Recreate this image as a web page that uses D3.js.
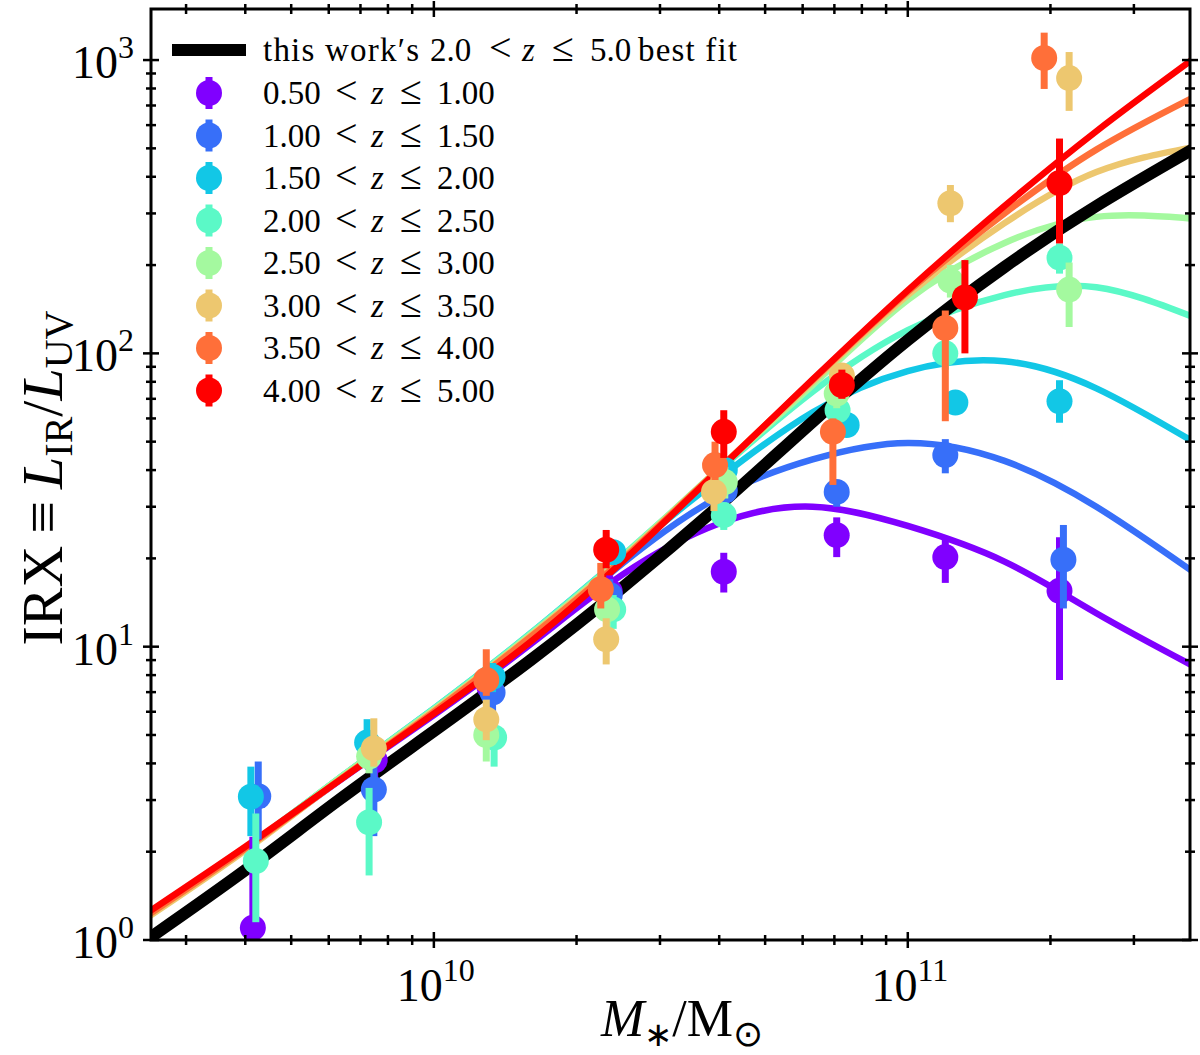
<!DOCTYPE html>
<html>
<head>
<meta charset="utf-8">
<script src="https://cdn.jsdelivr.net/npm/d3@7"></script>
<style>
  body { margin: 0; background: #fff; }
  text { font-family: "Liberation Serif", "Times New Roman", serif; fill: #000; }
</style>
</head>
<body>
<svg id="chart"></svg>
<script>
// redshift bins
const zLow = ['0.50', '1.00', '1.50', '2.00', '2.50', '3.00', '3.50', '4.00']
const zHigh = ['1.00', '1.50', '2.00', '2.50', '3.00', '3.50', '4.00', '5.00']
const colors = ['#8000ff', '#376ff9', '#12c7e6', '#5bf9c7', '#a4f99f', '#edc76f', '#ff6f39', '#ff0000']

// measured points: [M*, IRX, low, high]
const pts0 = [[4.15e9, 1.10, 0.6, 2.25], [7.5e9, 4.1, 3.5, 4.7], [1.31e10, 7.3, 6.3, 8.4], [2.35e10, 15.4, 13.5, 17.5],
  [4.09e10, 18.0, 15.3, 20.9], [7.08e10, 24, 20.2, 27.6], [1.2e11, 20.2, 16.5, 23.7], [2.09e11, 15.5, 7.7, 23.6]]
const pts1 = [[4.26e9, 3.09, 2.2, 4.06], [7.47e9, 3.26, 2.26, 3.9], [1.33e10, 6.98, 6.0, 8.0], [2.35e10, 15, 13, 17],
  [4.11e10, 34, 30, 38], [7.08e10, 33.7, 30, 37], [1.2e11, 45, 39, 51], [2.13e11, 19.8, 13.5, 26]]
const pts2 = [[4.11e9, 3.08, 2.26, 3.9], [7.23e9, 4.71, 4.1, 5.66], [1.33e10, 7.9, 7, 8.8], [2.39e10, 21, 19, 23],
  [4.11e10, 40, 36, 44], [7.43e10, 57, 52, 62], [1.26e11, 68, 63, 73], [2.09e11, 68.7, 58, 81]]
const pts3 = [[4.21e9, 1.86, 1.15, 2.7], [7.3e9, 2.52, 1.66, 3.3], [1.34e10, 4.9, 3.9, 5.9], [2.39e10, 13.4, 11.5, 15],
  [4.09e10, 28.1, 25, 31], [7.11e10, 64, 57, 71], [1.2e11, 100, 88, 112], [2.09e11, 212, 187, 237]]
const pts4 = [[7.3e9, 4.22, 3.7, 4.8], [1.29e10, 5.0, 4.06, 5.9], [2.32e10, 13.4, 11.5, 15.5], [4.11e10, 36.4, 32, 41],
  [7.08e10, 73, 65, 81], [1.23e11, 177, 155, 200], [2.19e11, 165, 123, 204]]
const pts5 = [[7.47e9, 4.5, 3.9, 5.7], [1.29e10, 5.65, 4.8, 6.6], [2.31e10, 10.6, 8.7, 12.5], [3.9e10, 33.7, 29, 38],
  [7.26e10, 84, 76, 92], [1.23e11, 325, 280, 375], [2.19e11, 868, 671, 1065]]
const pts6 = [[1.29e10, 7.7, 6.8, 9.8], [2.25e10, 15.7, 13.5, 19.3], [3.92e10, 41.6, 37, 50], [6.95e10, 54, 35.6, 60],
  [1.2e11, 122, 58.7, 140], [1.94e11, 1016, 797, 1240]]
const pts7 = [[2.31e10, 21.4, 18.5, 25], [4.09e10, 54, 44, 64], [7.26e10, 78, 70, 88], [1.32e11, 155, 100, 208],
  [2.09e11, 381, 237, 540]]
const points = [pts0, pts1, pts2, pts3, pts4, pts5, pts6, pts7]

// fitted curves at these masses
const fitMass = [2.5e9, 4e9, 6.3e9, 1e10, 1.6e10, 2.5e10, 4e10, 6.3e10, 1e11, 1.6e11, 2.5e11, 4e11]
const fit0 = [1.22, 2.05, 3.48, 5.85, 10.2, 17.6, 26.3, 30, 25.8, 19.5, 13, 8.6]
const fit1 = [1.22, 2.05, 3.5, 5.95, 10.5, 19.2, 32.5, 43.5, 49.5, 43, 30, 18]
const fit2 = [1.22, 2.05, 3.55, 6.15, 11.1, 20.3, 37.5, 63, 87, 94, 76, 50]
const fit3 = [1.22, 2.05, 3.55, 6.15, 11.1, 20.4, 40, 74, 120, 158, 168, 133]
const fit4 = [1.22, 2.05, 3.55, 6.1, 11.0, 20.2, 40.5, 78, 152, 238, 292, 288]
const fit5 = [1.20, 2.02, 3.5, 6.05, 10.9, 20, 40.5, 80, 158, 278, 415, 505]
const fit6 = [1.22, 2.05, 3.5, 6.0, 10.8, 19.8, 40.5, 81, 162, 300, 495, 745]
const fit7 = [1.246, 2.08, 3.49, 5.91, 10.4, 19.5, 40.2, 81.5, 164, 318, 572, 1008]
const fits = [fit0, fit1, fit2, fit3, fit4, fit5, fit6, fit7]
const fitBest = [1.01, 1.73, 3.0, 5.15, 9.0, 15.9, 30.3, 58.5, 111, 197, 318, 497]

const xMajor = [1e10, 1e11]
const xMajorExp = ['10', '11']
const xMinor = [3e9, 4e9, 5e9, 6e9, 7e9, 8e9, 9e9, 2e10, 3e10, 4e10, 5e10, 6e10, 7e10, 8e10, 9e10, 2e11, 3e11]
const yMajor = [1, 10, 100, 1000]
const yMajorExp = ['0', '1', '2', '3']
const yMinor = [2, 3, 4, 5, 6, 7, 8, 9, 20, 30, 40, 50, 60, 70, 80, 90, 200, 300, 400, 500, 600, 700, 800, 900]

const W = 1200, H = 1055
const pLeft = 151, pRight = 1190, pTop = 9, pBottom = 940

const svg = d3.select('#chart').attr('width', W).attr('height', H)

const x = d3.scaleLog().domain([2.53e9, 3.94e11]).range([pLeft, pRight])
const y = d3.scaleLog().domain([1, 1493]).range([pBottom, pTop])

svg.append('defs').append('clipPath').attr('id', 'plot-clip')
  .append('rect').attr('x', pLeft).attr('y', pTop).attr('width', pRight - pLeft).attr('height', pBottom - pTop)

const plot = svg.append('g').attr('clip-path', 'url(#plot-clip)')

const line = d3.line()
  .x(d => x(d[0]))
  .y(d => y(d[1]))
  .curve(d3.curveNatural)

// coloured fits
fits.forEach((f, i) => {
  plot.append('path')
    .datum(fitMass.map((m, k) => [m, f[k]]))
    .attr('d', line)
    .attr('fill', 'none')
    .attr('stroke', colors[i])
    .attr('stroke-width', 6.5)
})

// best fit drawn over them
plot.append('path')
  .datum(fitMass.map((m, k) => [m, fitBest[k]]))
  .attr('d', line)
  .attr('fill', 'none')
  .attr('stroke', '#000')
  .attr('stroke-width', 12)

// points with error bars
points.forEach((p, i) => {
  const g = plot.append('g')
  p.forEach(d => {
    g.append('line')
      .attr('x1', x(d[0])).attr('x2', x(d[0]))
      .attr('y1', y(d[2])).attr('y2', y(d[3]))
      .attr('stroke', colors[i]).attr('stroke-width', 7)
    g.append('circle')
      .attr('cx', x(d[0])).attr('cy', y(d[1])).attr('r', 13)
      .attr('fill', colors[i])
  })
})

// frame and ticks
svg.append('rect')
  .attr('x', pLeft).attr('y', pTop).attr('width', pRight - pLeft).attr('height', pBottom - pTop)
  .attr('fill', 'none').attr('stroke', '#000').attr('stroke-width', 3)

const ticks = svg.append('g').attr('stroke', '#000').attr('stroke-width', 2.5)
function xTick(v, len) {
  [pBottom, pTop].forEach(yy => {
    ticks.append('line').attr('x1', x(v)).attr('x2', x(v)).attr('y1', yy - len).attr('y2', yy + len)
  })
}
function yTick(v, len) {
  [pLeft, pRight].forEach(xx => {
    ticks.append('line').attr('y1', y(v)).attr('y2', y(v)).attr('x1', xx - len).attr('x2', xx + len)
  })
}
xMinor.forEach(v => xTick(v, 5))
xMajor.forEach(v => xTick(v, 8))
yMinor.forEach(v => yTick(v, 5))
yMajor.forEach(v => yTick(v, 8))

// tick labels
xMajor.forEach((v, i) => {
  const t = svg.append('text').attr('x', x(v) + 2).attr('y', pBottom + 61)
    .attr('text-anchor', 'middle').attr('font-size', 46)
  t.append('tspan').text('10')
  t.append('tspan').attr('dy', -20).attr('font-size', 32).text(xMajorExp[i])
})
yMajor.forEach((v, i) => {
  const t = svg.append('text').attr('x', 134).attr('y', y(v) + 18)
    .attr('text-anchor', 'end').attr('font-size', 46)
  t.append('tspan').text('10')
  t.append('tspan').attr('dy', -20).attr('font-size', 32).text(yMajorExp[i])
})

// axis titles
const xl = svg.append('text').attr('x', 682).attr('y', 1036)
  .attr('text-anchor', 'middle').attr('font-size', 52)
xl.append('tspan').attr('font-style', 'italic').text('M')
xl.append('tspan').attr('font-size', 34).attr('dy', 10).text('∗')
xl.append('tspan').attr('dy', -10).text('/M')
xl.append('tspan').attr('font-size', 36).attr('dy', 10).text('⊙')

const yl = svg.append('text').attr('transform', 'translate(62,478) rotate(-90)')
  .attr('text-anchor', 'middle').attr('font-size', 58)
yl.append('tspan').text('IRX')
yl.append('tspan').attr('dx', 12).text('≡')
yl.append('tspan').attr('dx', 12).attr('font-style', 'italic').text('L')
yl.append('tspan').attr('font-size', 40).attr('dy', 10).text('IR')
yl.append('tspan').attr('dy', -10).text('/')
yl.append('tspan').attr('font-style', 'italic').text('L')
yl.append('tspan').attr('font-size', 40).attr('dy', 10).text('UV')

// legend
const leg = svg.append('g')
leg.append('line').attr('x1', 172).attr('x2', 246).attr('y1', 50).attr('y2', 50)
  .attr('stroke', '#000').attr('stroke-width', 12)
function legText(yy, parts) {
  parts.forEach(p => {
    const t = leg.append('text').attr('x', p[0]).attr('y', yy).attr('font-size', p[4] || 33).text(p[1])
    if (p[2]) t.attr('font-style', 'italic')
    if (p[3]) t.attr('textLength', p[3]).attr('lengthAdjust', 'spacing')
  })
}
legText(61, [[263, 'this work′s', false, 156], [430, '2.0'], [489, '<', false, 0, 40], [522, 'z', true],
  [552, '≤', false, 0, 40], [590, '5.0'], [638, 'best fit', false, 99]])
zLow.forEach((lo, i) => {
  const yy = 93 + i * 42.5
  leg.append('line').attr('x1', 209).attr('x2', 209).attr('y1', yy - 16).attr('y2', yy + 16)
    .attr('stroke', colors[i]).attr('stroke-width', 7)
  leg.append('circle').attr('cx', 209).attr('cy', yy).attr('r', 13).attr('fill', colors[i])
  legText(yy + 11, [[263, lo], [335, '<', false, 0, 40], [371, 'z', true], [400, '≤', false, 0, 40], [437, zHigh[i]]])
})
</script>
</body>
</html>
